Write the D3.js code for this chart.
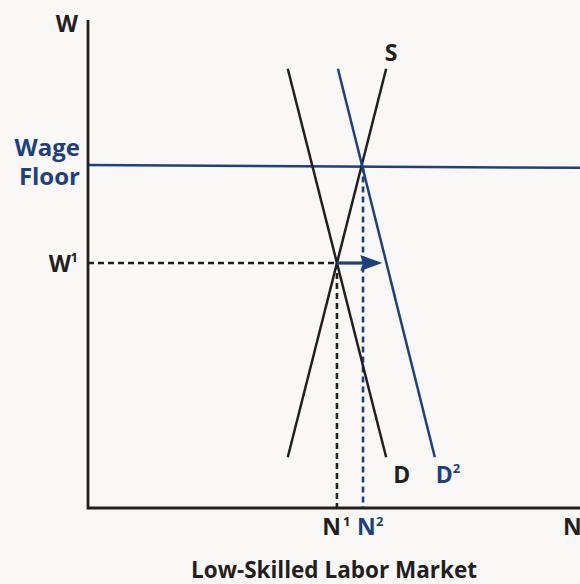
<!DOCTYPE html>
<html>
<head>
<meta charset="utf-8">
<script src="https://cdn.jsdelivr.net/npm/d3@7"></script>
<style>
  body { margin:0; background:#f9f8f6; }
  text { font-family: "Open Sans", Lato, sans-serif; font-weight: 700; }
</style>
</head>
<body>
<div id="vis-container"></div>
<script>
// curve end points in chart units (quantity, wage)
let supply = [[40.6, 10.4], [60.6, 90.0]];
let demand = [[40.6, 90.0], [60.6, 10.4]];
let demand2 = [[50.8, 90.0], [70.5, 10.4]];
let wageFloor = [[0, 70.3], [100, 69.7]];
let w1 = 50.2, n1 = 50.6, n2 = 55.9, arrowEnd = 59.8;

let width = 580, height = 584;
let blue = "#1e3f80", ink = "#231f20";

let svg = d3.select("#vis-container")
  .append("svg")
  .attr("width", width)
  .attr("height", height)
  .style("background", "#f9f8f6");

let x = d3.scaleLinear().domain([0, 100]).range([88, 580]);
let y = d3.scaleLinear().domain([0, 100]).range([508, 20]);

let line = d3.line().x(d => x(d[0])).y(d => y(d[1]));

// dashed guides
let floorAt = q => wageFloor[0][1] - (wageFloor[0][1] - wageFloor[1][1]) * q / 100;
svg.append("path").attr("d", line([[0, w1], [n1, w1]]))
  .attr("stroke", ink).attr("stroke-width", 2.6).attr("stroke-dasharray", "6,4").attr("fill", "none");
svg.append("path").attr("d", line([[n1, w1], [n1, 0]]))
  .attr("stroke", ink).attr("stroke-width", 2.6).attr("stroke-dasharray", "6,4").attr("fill", "none");
svg.append("path").attr("d", line([[n2, floorAt(n2)], [n2, 0]]))
  .attr("stroke", blue).attr("stroke-width", 2.6).attr("stroke-dasharray", "6,4").attr("fill", "none");

// wage floor
svg.append("path").attr("d", line(wageFloor))
  .attr("stroke", blue).attr("stroke-width", 2.5).attr("fill", "none");

// curves
svg.append("path").attr("d", line(supply)).attr("stroke", ink).attr("stroke-width", 2.5).attr("fill", "none");
svg.append("path").attr("d", line(demand)).attr("stroke", ink).attr("stroke-width", 2.5).attr("fill", "none");
svg.append("path").attr("d", line(demand2)).attr("stroke", blue).attr("stroke-width", 2.5).attr("fill", "none");

// shift arrow
let ax0 = x(n1), ax1 = x(arrowEnd), ay = y(w1);
svg.append("line")
  .attr("x1", ax0).attr("y1", ay).attr("x2", ax1 - 18).attr("y2", ay)
  .attr("stroke", blue).attr("stroke-width", 3.2);
svg.append("path")
  .attr("d", `M${ax1},${ay} L${ax1 - 22},${ay - 8} L${ax1 - 19},${ay} L${ax1 - 22},${ay + 8} Z`)
  .attr("fill", blue);

// axes
svg.append("path").attr("d", line([[0, 100], [0, 0], [100, 0]]))
  .attr("stroke", ink).attr("stroke-width", 2.8).attr("fill", "none");

// labels
function label(t, px, py, color, anchor, size) {
  return svg.append("text")
    .attr("x", px).attr("y", py)
    .attr("fill", color).attr("font-size", (size || 23) + "px")
    .attr("text-anchor", anchor || "start")
    .text(t);
}
label("W", x(0) - 10, y(100) + 12, ink, "end");
label("Wage", x(0) - 8, y(wageFloor[0][1]) - 9, blue, "end", 24);
label("Floor", x(0) - 8, y(wageFloor[0][1]) + 20, blue, "end", 24);
label("W", x(0) - 17, y(w1) + 9, ink, "end");
label("1", x(0) - 10, y(w1) - 1, ink, "end", 13);
label("S", x(supply[1][0]) + 5, y(supply[1][1]) - 8, ink, "middle");
label("D", x(demand[1][0]) + 7, y(demand[1][1]) + 26, ink, "start");
label("D", x(demand2[1][0]) + 1, y(demand2[1][1]) + 26, blue, "start");
label("2", x(demand2[1][0]) + 18, y(demand2[1][1]) + 16, blue, "start", 13);
label("N", x(n1) + 4, y(0) + 27, ink, "end");
label("1", x(n1) + 6, y(0) + 18, ink, "start", 13);
label("N", x(n2) - 6, y(0) + 27, blue, "start");
label("2", x(n2) + 13, y(0) + 18, blue, "start", 13);
label("N", x(100) - 17, y(0) + 27, ink, "start");

svg.append("text")
  .attr("x", 334).attr("y", 578)
  .attr("fill", ink).attr("font-size", "22.5px")
  .attr("text-anchor", "middle")
  .text("Low-Skilled Labor Market");
</script>
</body>
</html>
